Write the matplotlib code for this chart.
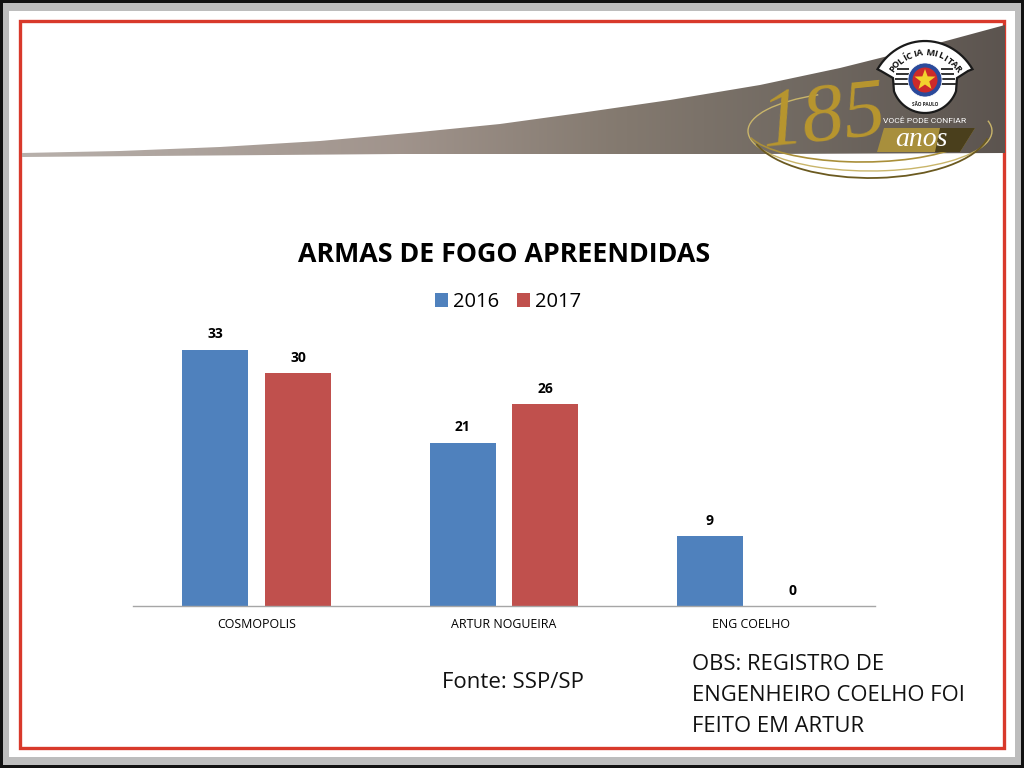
import matplotlib
matplotlib.use("Agg")
import matplotlib.pyplot as plt
from matplotlib.patches import Rectangle, Polygon, Circle, Arc
import numpy as np

plt.rcParams['font.family'] = ['Open Sans', 'DejaVu Sans']

categories = ['COSMOPOLIS', 'ARTUR NOGUEIRA', 'ENG COELHO']
years = ['2016', '2017']
values_2016 = [33, 21, 9]
values_2017 = [30, 26, 0]
title = 'ARMAS DE FOGO APREENDIDAS'
source_text = 'Fonte: SSP/SP'
obs_lines = ['OBS: REGISTRO DE', 'ENGENHEIRO COELHO FOI', 'FEITO EM ARTUR']

blue = '#4f81bd'
red = '#c0504d'
W, H = 1024, 768

# swoosh outline, top edge then bottom edge
swoosh_x = [22, 120, 220, 320, 420, 500, 580, 670, 760, 840, 920, 1005, 1005, 760, 400, 22]
swoosh_y = [153, 151, 147, 141, 132, 124, 113, 100, 85, 68, 48, 25, 153, 154, 154, 157]

fig = plt.figure(figsize=(W / 100, H / 100), dpi=100, facecolor='white')

# background layer in pixel coords
bg = fig.add_axes([0, 0, 1, 1])
bg.set_xlim(0, W)
bg.set_ylim(H, 0)
bg.axis('off')

bg.add_patch(Rectangle((0, 0), W, H, fc='#111111', ec='none'))
bg.add_patch(Rectangle((3, 3), W - 6, H - 6, fc='#bdbdbd', ec='none'))
bg.add_patch(Rectangle((9, 11), W - 18, H - 22, fc='white', ec='none'))
bg.add_patch(Rectangle((19.5, 20.5), 984.5, 727, fc='none', ec='#d8392b', lw=2.4))

# swoosh with gradient
grad = np.array([[0.72, 0.69, 0.67], [0.63, 0.58, 0.55], [0.52, 0.48, 0.44], [0.44, 0.41, 0.38], [0.36, 0.33, 0.31]])
stops = np.array([0, 0.38, 0.6, 0.8, 1])
t = np.linspace(0, 1, 512)
img = np.stack([np.interp(t, stops, grad[:, i]) for i in range(3)], axis=1)[None, :, :]
im = bg.imshow(img, extent=(22, 1005, 157, 25), aspect='auto', zorder=2)
clip = Polygon(list(zip(swoosh_x, swoosh_y)), closed=True, transform=bg.transData, fc='none', ec='none')
bg.add_patch(clip)
im.set_clip_path(clip)
bg.set_xlim(0, W)
bg.set_ylim(H, 0)

# 185 anos logo
gold = '#b8962e'
bg.add_patch(Arc((870, 131), 244, 80, theta1=-5, theta2=215, color='#c9b56a', lw=1, zorder=3))
bg.add_patch(Arc((870, 128), 240, 100, theta1=5, theta2=172, color='#6b5a20', lw=1.3, zorder=3))
bg.add_patch(Arc((862, 128), 232, 68, theta1=10, theta2=175, color='#a98f3a', lw=1.2, zorder=3))
bg.add_patch(Polygon([(884, 128), (975, 128), (960, 152), (877, 152)], fc='#a88f3c', ec='none', zorder=3))
bg.add_patch(Polygon([(940, 128), (975, 128), (960, 152), (935, 152)], fc='#4a3f1c', ec='none', zorder=3))
bg.text(921, 140, 'anos', fontsize=20, style='italic', family='Liberation Serif', color='white',
        ha='center', va='center', zorder=5)
bg.text(925, 121, 'VOCÊ PODE CONFIAR', fontsize=6.1, color='white', ha='center', va='center',
        family='Roboto', zorder=5)
bg.text(823, 120, '185', fontsize=60, style='italic', family='Liberation Serif', color=gold,
        ha='center', va='center', zorder=4, rotation=6)

# police badge
ang = np.radians(np.linspace(-58, 58, 30))
top_x = 925 + 56 * np.sin(ang)
top_y = 101 - 60 * np.cos(ang)
low = np.radians(np.linspace(70, -70, 30))
low_x = 925 + 33 * np.sin(low)
low_y = 80 + 33 * np.cos(low)
outline = list(zip(top_x, top_y)) + [(968, 71), (957, 78)] + list(zip(low_x, low_y)) + [(893, 78), (881, 71)]
bg.add_patch(Polygon(outline, closed=True, fc='white', ec='#1a1a1a', lw=1.6, zorder=6))
for i in range(4):
    y = 69 + i * 5
    bg.plot([897 - i, 909], [y, y], color='#222222', lw=1.3, zorder=6, solid_capstyle='butt')
    bg.plot([941, 953 + i], [y, y], color='#222222', lw=1.3, zorder=6, solid_capstyle='butt')

badge_text = 'POLÍCIA MILITAR'
letter_ang = np.linspace(-53, 53, len(badge_text))
for ch, a in zip(badge_text, letter_ang):
    r = np.radians(a)
    bg.text(925 + 40 * np.sin(r), 93 - 40 * np.cos(r), ch, fontsize=6.6, weight='bold', color='#111111',
            ha='center', va='center', rotation=-a, family='Open Sans', zorder=7)

bg.add_patch(Circle((925, 80), 17, fc='#2b4a9b', ec='white', lw=0.5, zorder=7))
bg.add_patch(Circle((925, 80), 12.5, fc='#cc2a2a', ec='none', zorder=8))
star_ang = np.radians(np.arange(0, 360, 36))
star_r = np.where(np.arange(10) % 2 == 0, 11, 4.5)
bg.add_patch(Polygon(list(zip(925 + star_r * np.sin(star_ang), 80 - star_r * np.cos(star_ang))),
                     closed=True, fc='#f2d22e', ec='none', zorder=9))
bg.text(925, 104, 'SÃO PAULO', fontsize=3.4, weight='bold', color='#222222', ha='center', va='center', zorder=7)

# chart
ax = fig.add_axes([133 / W, 1 - 606 / H, 742 / W, 266 / H], facecolor='none')
pos = np.arange(len(categories))
bar_w = 66 / 247.5
off = 41.5 / 247.5
b1 = ax.bar(pos - off, values_2016, bar_w, color=blue, label=years[0])
b2 = ax.bar(pos + off, values_2017, bar_w, color=red, label=years[1])
for bars in (b1, b2):
    for rect in bars:
        h = rect.get_height()
        ax.annotate(str(int(h)), (rect.get_x() + rect.get_width() / 2, h), xytext=(0, 6),
                    textcoords='offset points', ha='center', va='bottom', fontsize=10, weight='bold',
                    color='black')
ax.set_xlim(-0.5, 2.5)
ax.set_ylim(0, 266 / 7.77)
ax.set_yticks([])
ax.set_xticks(pos)
ax.set_xticklabels(categories, fontsize=8.9, color='black')
ax.tick_params(axis='x', length=0, pad=9)
for s in ['top', 'left', 'right']:
    ax.spines[s].set_visible(False)
ax.spines['bottom'].set_color('#a6a6a6')
ax.spines['bottom'].set_linewidth(1)

fig.text(504 / W, 1 - 255 / H, title, fontsize=19.3, weight='bold', ha='center', va='center', color='black')
fig.legend(handles=[b1, b2], labels=years, loc='center', bbox_to_anchor=(508 / W, 1 - 302 / H), ncol=2,
           frameon=False, fontsize=14.5, handlelength=0.65, handleheight=0.65, handletextpad=0.25,
           columnspacing=0.85)

fig.text(442 / W, 1 - 682 / H, source_text, fontsize=16, ha='left', va='center', color='#111111')
for i, line in enumerate(obs_lines):
    fig.text(692 / W, 1 - (665 + i * 30.5) / H, line, fontsize=15.85, ha='left', va='center', color='#111111')

fig.savefig('out.png', dpi=100)
